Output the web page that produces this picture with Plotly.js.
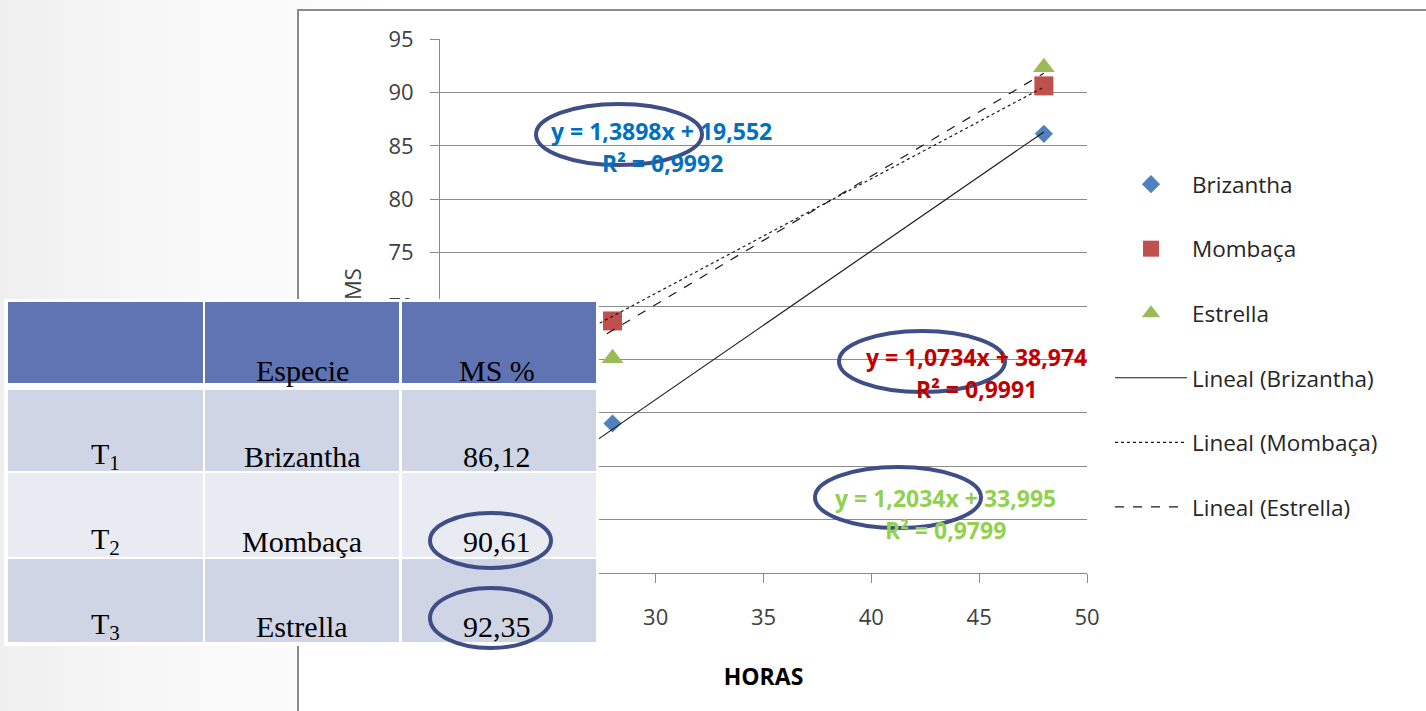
<!DOCTYPE html>
<html>
<head>
<meta charset="utf-8">
<script src="https://cdn.plot.ly/plotly-3.0.1.min.js"></script>
<style>
  html, body { margin: 0; padding: 0; }
  body { width: 1426px; height: 711px; overflow: hidden;
         background: linear-gradient(90deg, #efefef 0px, #f7f7f7 150px, #fbfbfb 300px, #ffffff 400px); }
  #chart { width: 1426px; height: 711px; }
</style>
</head>
<body>
<div id="chart"></div>
<script>
// ---------- data ----------
const hours = [28, 48];
const brizantha = [59.0, 86.12];
const mombaca = [68.6, 90.61];
const estrella = [65.1, 92.35];

const trendHours = [22, 48];
const trendBrizantha = [50.1, 86.3];
const trendMombaca = [62.6, 90.5];
const trendEstrella = [60.5, 91.8];

const seriesNames = ['Brizantha', 'Mombaça', 'Estrella'];
const trendNames = ['Lineal (Brizantha)', 'Lineal (Mombaça)', 'Lineal (Estrella)'];
const eqText = ['y = 1,3898x + 19,552', 'y = 1,0734x + 38,974', 'y = 1,2034x + 33,995'];
const r2Text = ['R² = 0,9992', 'R² = 0,9991', 'R² = 0,9799'];

const tableHeader = ['', 'Especie', 'MS %'];
const tableTrat = ['T<sub>1</sub>', 'T<sub>2</sub>', 'T<sub>3</sub>'];
const tableEspecie = ['Brizantha', 'Mombaça', 'Estrella'];
const tableMS = ['86,12', '90,61', '92,35'];

const xTitle = 'HORAS';
const yTitle = 'MS';

// ---------- geometry helpers (pixel -> paper) ----------
const W = 1426, H = 711;
const PL = 440, PR = 1087, PT = 39, PB = 573;
const px = v => (v - PL) / (PR - PL);
const py = v => (PB - v) / (PB - PT);

const FONT = 'Open Sans, Liberation Sans, sans-serif';
const SERIF = 'Liberation Serif, Times New Roman, serif';
const markerColors = ['#4F81BD', '#C0504D', '#9BBB59'];
const markerSymbols = ['diamond', 'square', 'triangle-up'];
const markerSizes = [14, 19, 19];
const eqColors = ['#0070C0', '#C00000', '#92D050'];
const dashes = ['solid', 'dot', 'dash'];
const seriesData = [brizantha, mombaca, estrella];
const trendData = [trendBrizantha, trendMombaca, trendEstrella];

const traces = [];
for (let i = 0; i < 3; i++) {
  traces.push({
    type: 'scatter', mode: 'markers', x: hours, y: seriesData[i], name: seriesNames[i],
    legendgroup: 'g' + i,
    marker: { symbol: markerSymbols[i], size: markerSizes[i], color: markerColors[i], line: { width: 0 } },
    hoverinfo: 'x+y'
  });
}
for (let i = 0; i < 3; i++) {
  traces.push({
    type: 'scatter', mode: 'lines', x: trendHours, y: trendData[i], name: trendNames[i],
    legendgroup: 't' + i,
    line: { color: '#1a1a1a', width: 1.2, dash: dashes[i] },
    hoverinfo: 'skip'
  });
}

// ---------- shapes ----------
const shapes = [];
// chart frame
shapes.push({ type: 'rect', xref: 'paper', yref: 'paper', layer: 'below',
  x0: px(298), x1: px(1440), y0: py(10), y1: py(725),
  fillcolor: '#ffffff', line: { color: '#8a8a8a', width: 2 } });
// white boxes behind equation labels
const eqBoxes = [[536, 785, 112, 182], [857, 1087, 335, 404], [825, 1067, 478, 548]];
eqBoxes.forEach(b => shapes.push({ type: 'rect', xref: 'paper', yref: 'paper', layer: 'between',
  x0: px(b[0]), x1: px(b[1]), y0: py(b[2]), y1: py(b[3]), fillcolor: '#ffffff', line: { width: 0 } }));

// table
shapes.push({ type: 'rect', xref: 'paper', yref: 'paper', layer: 'above',
  x0: px(4), x1: px(599), y0: py(299), y1: py(646), fillcolor: '#ffffff', line: { width: 0 } });
const colX = [[8, 203], [205, 399], [402, 596]];
const rowY = [[302, 383], [390, 471], [473, 557], [559, 642]];
const rowFill = ['#6074B4', '#D0D5E6', '#E9EBF2', '#D0D5E6'];
rowY.forEach((r, ri) => colX.forEach(c => shapes.push({ type: 'rect', xref: 'paper', yref: 'paper', layer: 'above',
  x0: px(c[0]), x1: px(c[1]), y0: py(r[0]), y1: py(r[1]), fillcolor: rowFill[ri], line: { width: 0 } })));

// ellipses
const ellipses = [[536, 702, 104, 165], [839, 1005, 331, 392], [815, 981, 467, 528], [430, 551, 513, 568], [430, 551, 588, 648]];
ellipses.forEach(e => shapes.push({ type: 'circle', xref: 'paper', yref: 'paper', layer: 'above',
  x0: px(e[0]), x1: px(e[1]), y0: py(e[2]), y1: py(e[3]), line: { color: '#3F4E86', width: 4 } }));

// ---------- annotations ----------
const annotations = [];
const eqPos = [[661, 131, 662, 163], [976, 357, 976, 389], [945, 498, 945, 530]];
for (let i = 0; i < 3; i++) {
  annotations.push({ xref: 'paper', yref: 'paper', x: px(eqPos[i][0]), y: py(eqPos[i][1]), text: '<b>' + eqText[i] + '</b>',
    showarrow: false, xanchor: 'center', yanchor: 'middle', font: { family: FONT, size: 23, color: eqColors[i] } });
  annotations.push({ xref: 'paper', yref: 'paper', x: px(eqPos[i][2]), y: py(eqPos[i][3]), text: '<b>' + r2Text[i] + '</b>',
    showarrow: false, xanchor: 'center', yanchor: 'middle', font: { family: FONT, size: 23, color: eqColors[i] } });
}
// y axis title
annotations.push({ xref: 'paper', yref: 'paper', x: px(352), y: py(284), text: yTitle, textangle: -90,
  showarrow: false, xanchor: 'center', yanchor: 'middle', font: { family: FONT, size: 22, color: '#404040' } });

// table texts
const colCenter = [105, 302, 497];
const headerBase = 370;
tableHeader.forEach((t, c) => { if (t) annotations.push({ xref: 'paper', yref: 'paper', x: px(colCenter[c]), y: py(headerBase),
  text: t, showarrow: false, xanchor: 'center', yanchor: 'middle', font: { family: SERIF, size: 30, color: '#000' } }); });
const rowCenters = [456, 541, 626];
for (let r = 0; r < 3; r++) {
  const cells = [tableTrat[r], tableEspecie[r], tableMS[r]];
  cells.forEach((t, c) => annotations.push({ xref: 'paper', yref: 'paper', x: px(colCenter[c]), y: py(rowCenters[r]),
    text: t, showarrow: false, xanchor: 'center', yanchor: 'middle', font: { family: SERIF, size: 30, color: '#000' } }));
}

const layout = {
  width: W, height: H,
  margin: { l: PL, r: W - PR, t: PT, b: H - PB, pad: 0 },
  paper_bgcolor: 'rgba(0,0,0,0)', plot_bgcolor: 'rgba(0,0,0,0)',
  font: { family: FONT, color: '#404040' },
  xaxis: {
    range: [20, 50], tick0: 20, dtick: 5, showgrid: false, zeroline: false,
    showline: true, linecolor: '#8a8a8a', linewidth: 1,
    ticks: 'outside', ticklen: 9, tickcolor: '#8a8a8a',
    tickfont: { family: FONT, size: 22, color: '#404040' }, ticklabelstandoff: 16,
    title: { text: '<b>' + xTitle + '</b>', font: { family: FONT, size: 23, color: '#000' }, standoff: 38 }
  },
  yaxis: {
    range: [45, 95], tick0: 45, dtick: 5, showgrid: true, gridcolor: '#8c8c8c', gridwidth: 1, zeroline: false,
    showline: true, linecolor: '#8a8a8a', linewidth: 1,
    ticks: 'outside', ticklen: 9, tickcolor: '#8a8a8a',
    tickfont: { family: FONT, size: 22, color: '#404040' }, ticklabelstandoff: 12
  },
  showlegend: true,
  legend: {
    x: px(1110), xanchor: 'left', y: py(163), yanchor: 'top',
    bgcolor: 'rgba(0,0,0,0)', borderwidth: 0,
    font: { family: FONT, size: 22.5, color: '#262626' },
    itemwidth: 72, tracegroupgap: 32.3, traceorder: 'grouped'
  },
  shapes: shapes,
  annotations: annotations
};

Plotly.newPlot('chart', traces, layout, { displayModeBar: false, staticPlot: true });
</script>
</body>
</html>
